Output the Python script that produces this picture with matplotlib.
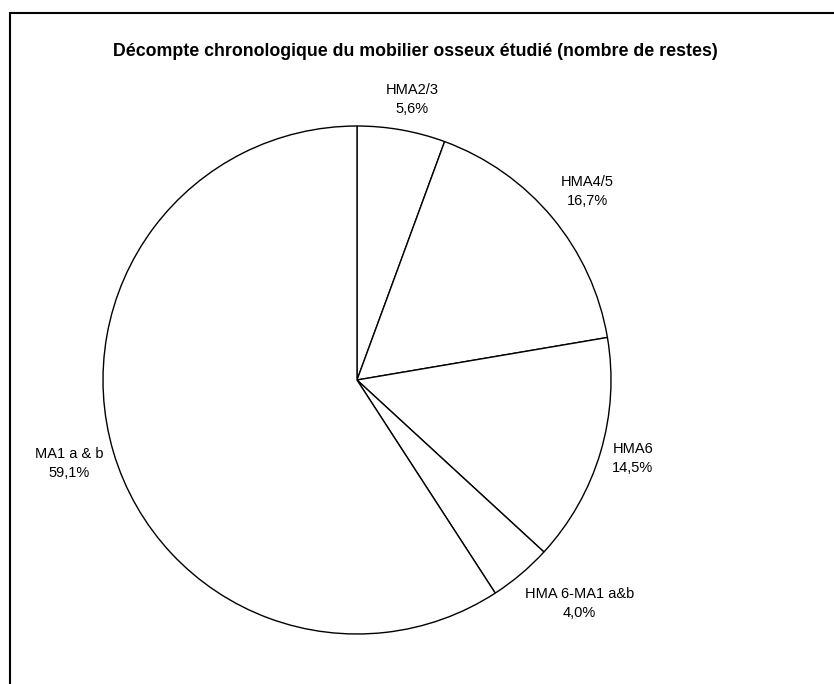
import matplotlib
matplotlib.use("Agg")
import matplotlib.pyplot as plt
import numpy as np

categories = ["HMA2/3", "HMA4/5", "HMA6", "HMA 6-MA1 a&b", "MA1 a & b"]
percentages = [5.6, 16.7, 14.5, 4.0, 59.1]
title = "Décompte chronologique du mobilier osseux étudié (nombre de restes)"

plt.rcParams['font.family'] = ['Liberation Sans', 'DejaVu Sans']

W, H = 834, 684
fig = plt.figure(figsize=(W / 100, H / 100), dpi=100)
fig.patch.set_facecolor("white")

# pie axes: center (357, 380), radius 254 px
cx, cy, r = 357, 380, 254
ax = fig.add_axes([(cx - r) / W, 1 - (cy + r) / H, 2 * r / W, 2 * r / H])
wedges, _ = ax.pie(percentages, startangle=90, counterclock=False,
                   colors=["white"] * len(percentages),
                   wedgeprops=dict(edgecolor="black", linewidth=1.0))
ax.set_xlim(-1, 1)
ax.set_ylim(-1, 1)
ax.set_aspect("equal")
ax.axis("off")

label_dist = [1.127, 1.172, 1.129, 1.242, 1.179]
label_shift = [-1.0, -0.4, 0.6, 4.7, -0.25]
for w, cat, p, d, s in zip(wedges, categories, percentages, label_dist, label_shift):
    ang = np.deg2rad((w.theta1 + w.theta2) / 2 + s)
    x, y = d * np.cos(ang), d * np.sin(ang)
    txt = f"{cat}\n{p:.1f}%".replace(".", ",")
    ax.text(x, y, txt, ha="center", va="center", fontsize=10.5,
            linespacing=1.45, clip_on=False)

fig.text(415 / W, 1 - 51 / H, title, ha="center", va="center",
         fontsize=12.8, fontweight="bold")

# outer frame (left and top edges visible; right and bottom lie outside the image)
frame = plt.Rectangle((10 / W, -0.1), 1.2, 1 - 13 / H + 0.1, transform=fig.transFigure,
                      fill=False, edgecolor="black", linewidth=1.5)
fig.add_artist(frame)

fig.savefig("out.png", dpi=100, facecolor="white")
